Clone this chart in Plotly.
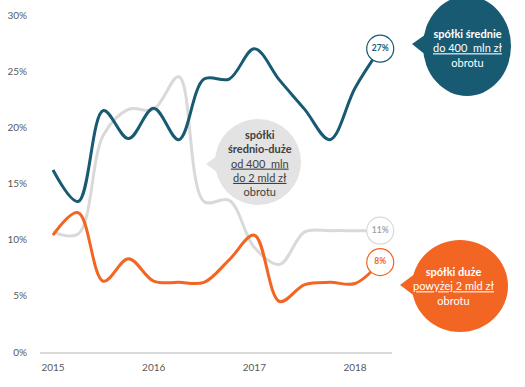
import plotly.graph_objects as go

# ---- data ----
periods = ["2015 Q1", "2015 Q2", "2015 Q3", "2015 Q4",
           "2016 Q1", "2016 Q2", "2016 Q3", "2016 Q4",
           "2017 Q1", "2017 Q2", "2017 Q3", "2017 Q4",
           "2018 Q1", "2018 Q2"]
srednie = [16.2, 13.4, 21.5, 19.0, 21.7, 18.9, 24.3, 24.3, 27.0, 24.2, 21.6, 18.9, 23.5, 27.0]
srednio_duze = [10.7, 10.5, 19.3, 21.6, 21.6, 24.5, 13.4, 13.5, 9.3, 7.8, 10.7, 10.8, 10.8, 10.8]
duze = [10.4, 12.4, 6.3, 8.3, 6.3, 6.2, 6.2, 8.2, 10.4, 4.5, 6.0, 6.2, 6.1, 8.0]
year_ticks = [2015, 2016, 2017, 2018]
y_ticks = [0, 5, 10, 15, 20, 25, 30]
y_tick_labels = ["0%", "5%", "10%", "15%", "20%", "25%", "30%"]
end_labels = ["27%", "11%", "8%"]

x = [int(p[:4]) + (int(p[-1]) - 1) * 0.25 for p in periods]

DARK = "#185a72"
ORANGE = "#f26522"
GRAY = "#d9d9d9"
BUBBLE_GRAY = "#e3e3e3"
FONT = "Lato"

fig = go.Figure()

series = [
    (srednio_duze, GRAY, "#a6a6a6", GRAY, end_labels[1]),
    (srednie, DARK, DARK, DARK, end_labels[0]),
    (duze, ORANGE, ORANGE, ORANGE, end_labels[2]),
]
for vals, col, tcol, bcol, lab in series:
    fig.add_trace(go.Scatter(x=x, y=vals, mode="lines",
                             line=dict(color=col, width=3, shape="spline", smoothing=1.0),
                             hoverinfo="skip", showlegend=False))
for vals, col, tcol, bcol, lab in series:
    fig.add_trace(go.Scatter(x=[x[-1]], y=[vals[-1]], mode="markers+text",
                             marker=dict(size=27, color="white", line=dict(color=bcol, width=1.2)),
                             text=[f"<b>{lab}</b>"], textposition="middle center",
                             textfont=dict(family=FONT, size=8.5, color=tcol),
                             cliponaxis=False, hoverinfo="skip", showlegend=False))

# plot area in pixels
L, R, T, B = 40, 392, 15, 352


def px(xp):
    return (xp - L) / (R - L)


def py(yp):
    return (B - yp) / (B - T)


def bubble(cx, cy, rx, ry, tip, b1, b2, color):
    return [
        dict(type="circle", xref="paper", yref="paper",
             x0=px(cx - rx), x1=px(cx + rx), y0=py(cy + ry), y1=py(cy - ry),
             fillcolor=color, line=dict(width=0), layer="above"),
        dict(type="path", xref="paper", yref="paper",
             path=f"M {px(tip[0])} {py(tip[1])} L {px(b1[0])} {py(b1[1])} L {px(b2[0])} {py(b2[1])} Z",
             fillcolor=color, line=dict(width=0), layer="above"),
    ]


shapes = []
shapes += bubble(467, 46, 44, 50, (412, 44), (432, 30), (432, 60), DARK)
shapes += bubble(460, 286, 48, 46, (400, 285), (420, 270), (420, 300), ORANGE)
shapes += bubble(258, 162, 43, 43, (206, 164), (225, 150), (225, 178), BUBBLE_GRAY)

common = dict(xref="paper", yref="paper", showarrow=False, xanchor="center",
              yanchor="middle", align="center")
annotations = [
    dict(x=px(468), y=py(48),
         text="<b>spółki średnie</b><br><u>do 400  mln zł</u><br>obrotu",
         font=dict(family=FONT, size=11, color="white"), **common),
    dict(x=px(454), y=py(286),
         text="<b>spółki duże</b><br><u>powyżej 2 mld zł</u><br>obrotu",
         font=dict(family=FONT, size=11, color="white"), **common),
    dict(x=px(260), y=py(163),
         text="<b>spółki</b><br><b>średnio-duże</b><br><u>od 400  mln</u><br><u>do 2 mld zł</u><br>obrotu",
         font=dict(family=FONT, size=11, color="#404040"), **common),
]

fig.update_layout(
    width=525, height=387,
    margin=dict(l=L, r=525 - R, t=T, b=387 - B, autoexpand=False),
    paper_bgcolor="white", plot_bgcolor="white",
    font=dict(family=FONT, size=10, color="#595959"),
    shapes=shapes, annotations=annotations,
    xaxis=dict(range=[2014.871, 2018.367], tickvals=year_ticks,
               ticktext=[str(v) for v in year_ticks],
               showgrid=False, zeroline=False, showline=True,
               linecolor=GRAY, linewidth=2, ticks="", fixedrange=True, automargin=False,
               ticklabelstandoff=5),
    yaxis=dict(range=[0, 30], tickvals=y_ticks, ticktext=y_tick_labels,
               showgrid=False, zeroline=False, showline=False, ticks="", fixedrange=True,
               automargin=False, ticklabelstandoff=12),
)

fig.write_html("out.html", config={"displayModeBar": False},
               post_script="document.body.style.margin='0';document.body.style.overflow='hidden';")
